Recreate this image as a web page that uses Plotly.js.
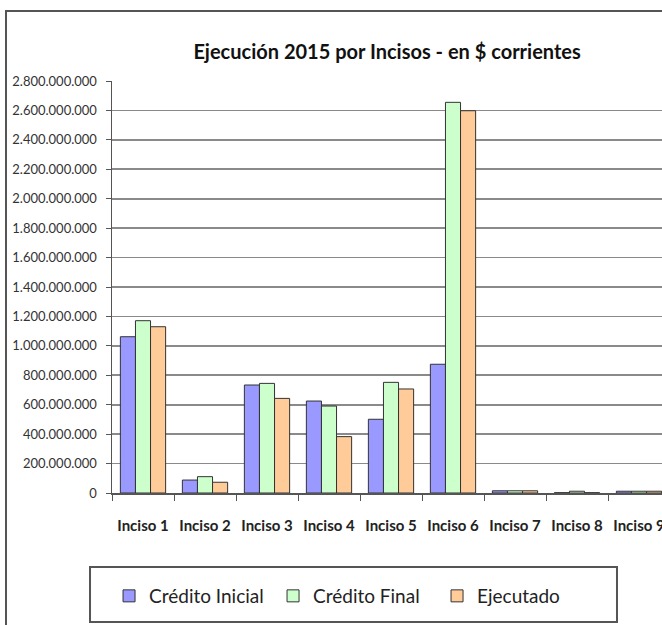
<!DOCTYPE html>
<html>
<head>
<meta charset="utf-8">
<script src="https://cdn.plot.ly/plotly-3.0.1.min.js"></script>
<style>
html,body{margin:0;padding:0;overflow:hidden;background:#fff;width:662px;height:625px;}
#chart{position:absolute;left:0;top:0;width:680px;height:625px;}
#frame{position:absolute;left:5px;top:10px;width:700px;height:700px;border-left:2px solid #555;border-top:2px solid #555;pointer-events:none;}
</style>
</head>
<body>
<div id="chart"></div>
<div id="frame"></div>
<script>
const categories = ["Inciso 1","Inciso 2","Inciso 3","Inciso 4","Inciso 5","Inciso 6","Inciso 7","Inciso 8","Inciso 9"];
const creditoInicial = [1062000000, 88000000, 734000000, 625000000, 501000000, 875000000, 15000000, 2000000, 12000000];
const creditoFinal   = [1171000000, 111000000, 745000000, 591000000, 752000000, 2655000000, 15000000, 12000000, 12000000];
const ejecutado      = [1130000000, 73000000, 643000000, 383000000, 707000000, 2598000000, 15000000, 2000000, 12000000];
const seriesNames = ["Crédito Inicial","Crédito Final","Ejecutado"];
const yTickVals = [0,200000000,400000000,600000000,800000000,1000000000,1200000000,1400000000,1600000000,1800000000,2000000000,2200000000,2400000000,2600000000,2800000000];

const font = 'Lato, "Open Sans", sans-serif';
const lineStyle = {color:'#333', width:1};
const data = [
  {type:'bar', name:seriesNames[0], x:categories, y:creditoInicial, marker:{color:'#9999FF', line:lineStyle}},
  {type:'bar', name:seriesNames[1], x:categories, y:creditoFinal, marker:{color:'#CCFFCC', line:lineStyle}},
  {type:'bar', name:seriesNames[2], x:categories, y:ejecutado, marker:{color:'#FFCC99', line:lineStyle}}
];
const layout = {
  width:680, height:625,
  margin:{l:112, r:10, t:81, b:132, autoexpand:false},
  paper_bgcolor:'#fff', plot_bgcolor:'#fff',
  separators:',.',
  barmode:'group', bargap:0.27, bargroupgap:0,
  title:{text:'Ejecución 2015 por Incisos - en $ corrientes', font:{family:font, size:20, weight:'bold', color:'#111'},
         x:0.493, xref:'paper', xanchor:'center', y:0.917, yref:'container', yanchor:'middle'},
  xaxis:{type:'category', showline:true, linecolor:'#555', linewidth:1.5, ticks:'outside', tickson:'boundaries',
         ticklen:6, tickcolor:'#555', tickfont:{family:font, size:15, weight:'bold', color:'#222'}, ticklabelstandoff:18,
         showgrid:false, zeroline:false, fixedrange:true},
  yaxis:{range:[0,2800000000], tickvals:yTickVals, tickformat:',d', showline:true, linecolor:'#555', linewidth:1.5,
         ticks:'outside', ticklen:5, tickcolor:'#555', tickfont:{family:font, size:13, color:'#333'},
         showgrid:true, gridcolor:'#8a8a8a', gridwidth:1.6, zeroline:false, fixedrange:true, ticklabelstandoff:6},
  showlegend:true,
  legend:{orientation:'h', x:-0.0053, xanchor:'left', y:-0.25, yanchor:'middle', entrywidth:119, entrywidthmode:'pixels',
          font:{family:font, size:19, color:'#222'}, bgcolor:'rgba(0,0,0,0)', borderwidth:0, traceorder:'normal'},
  shapes:[{type:'rect', xref:'paper', yref:'paper', x0:-0.0394, x1:0.905, y0:-0.1796, y1:-0.313,
           line:{color:'#555', width:2}, fillcolor:'rgba(0,0,0,0)'}]
};
Plotly.newPlot('chart', data, layout, {displayModeBar:false, staticPlot:true});
</script>
</body>
</html>
